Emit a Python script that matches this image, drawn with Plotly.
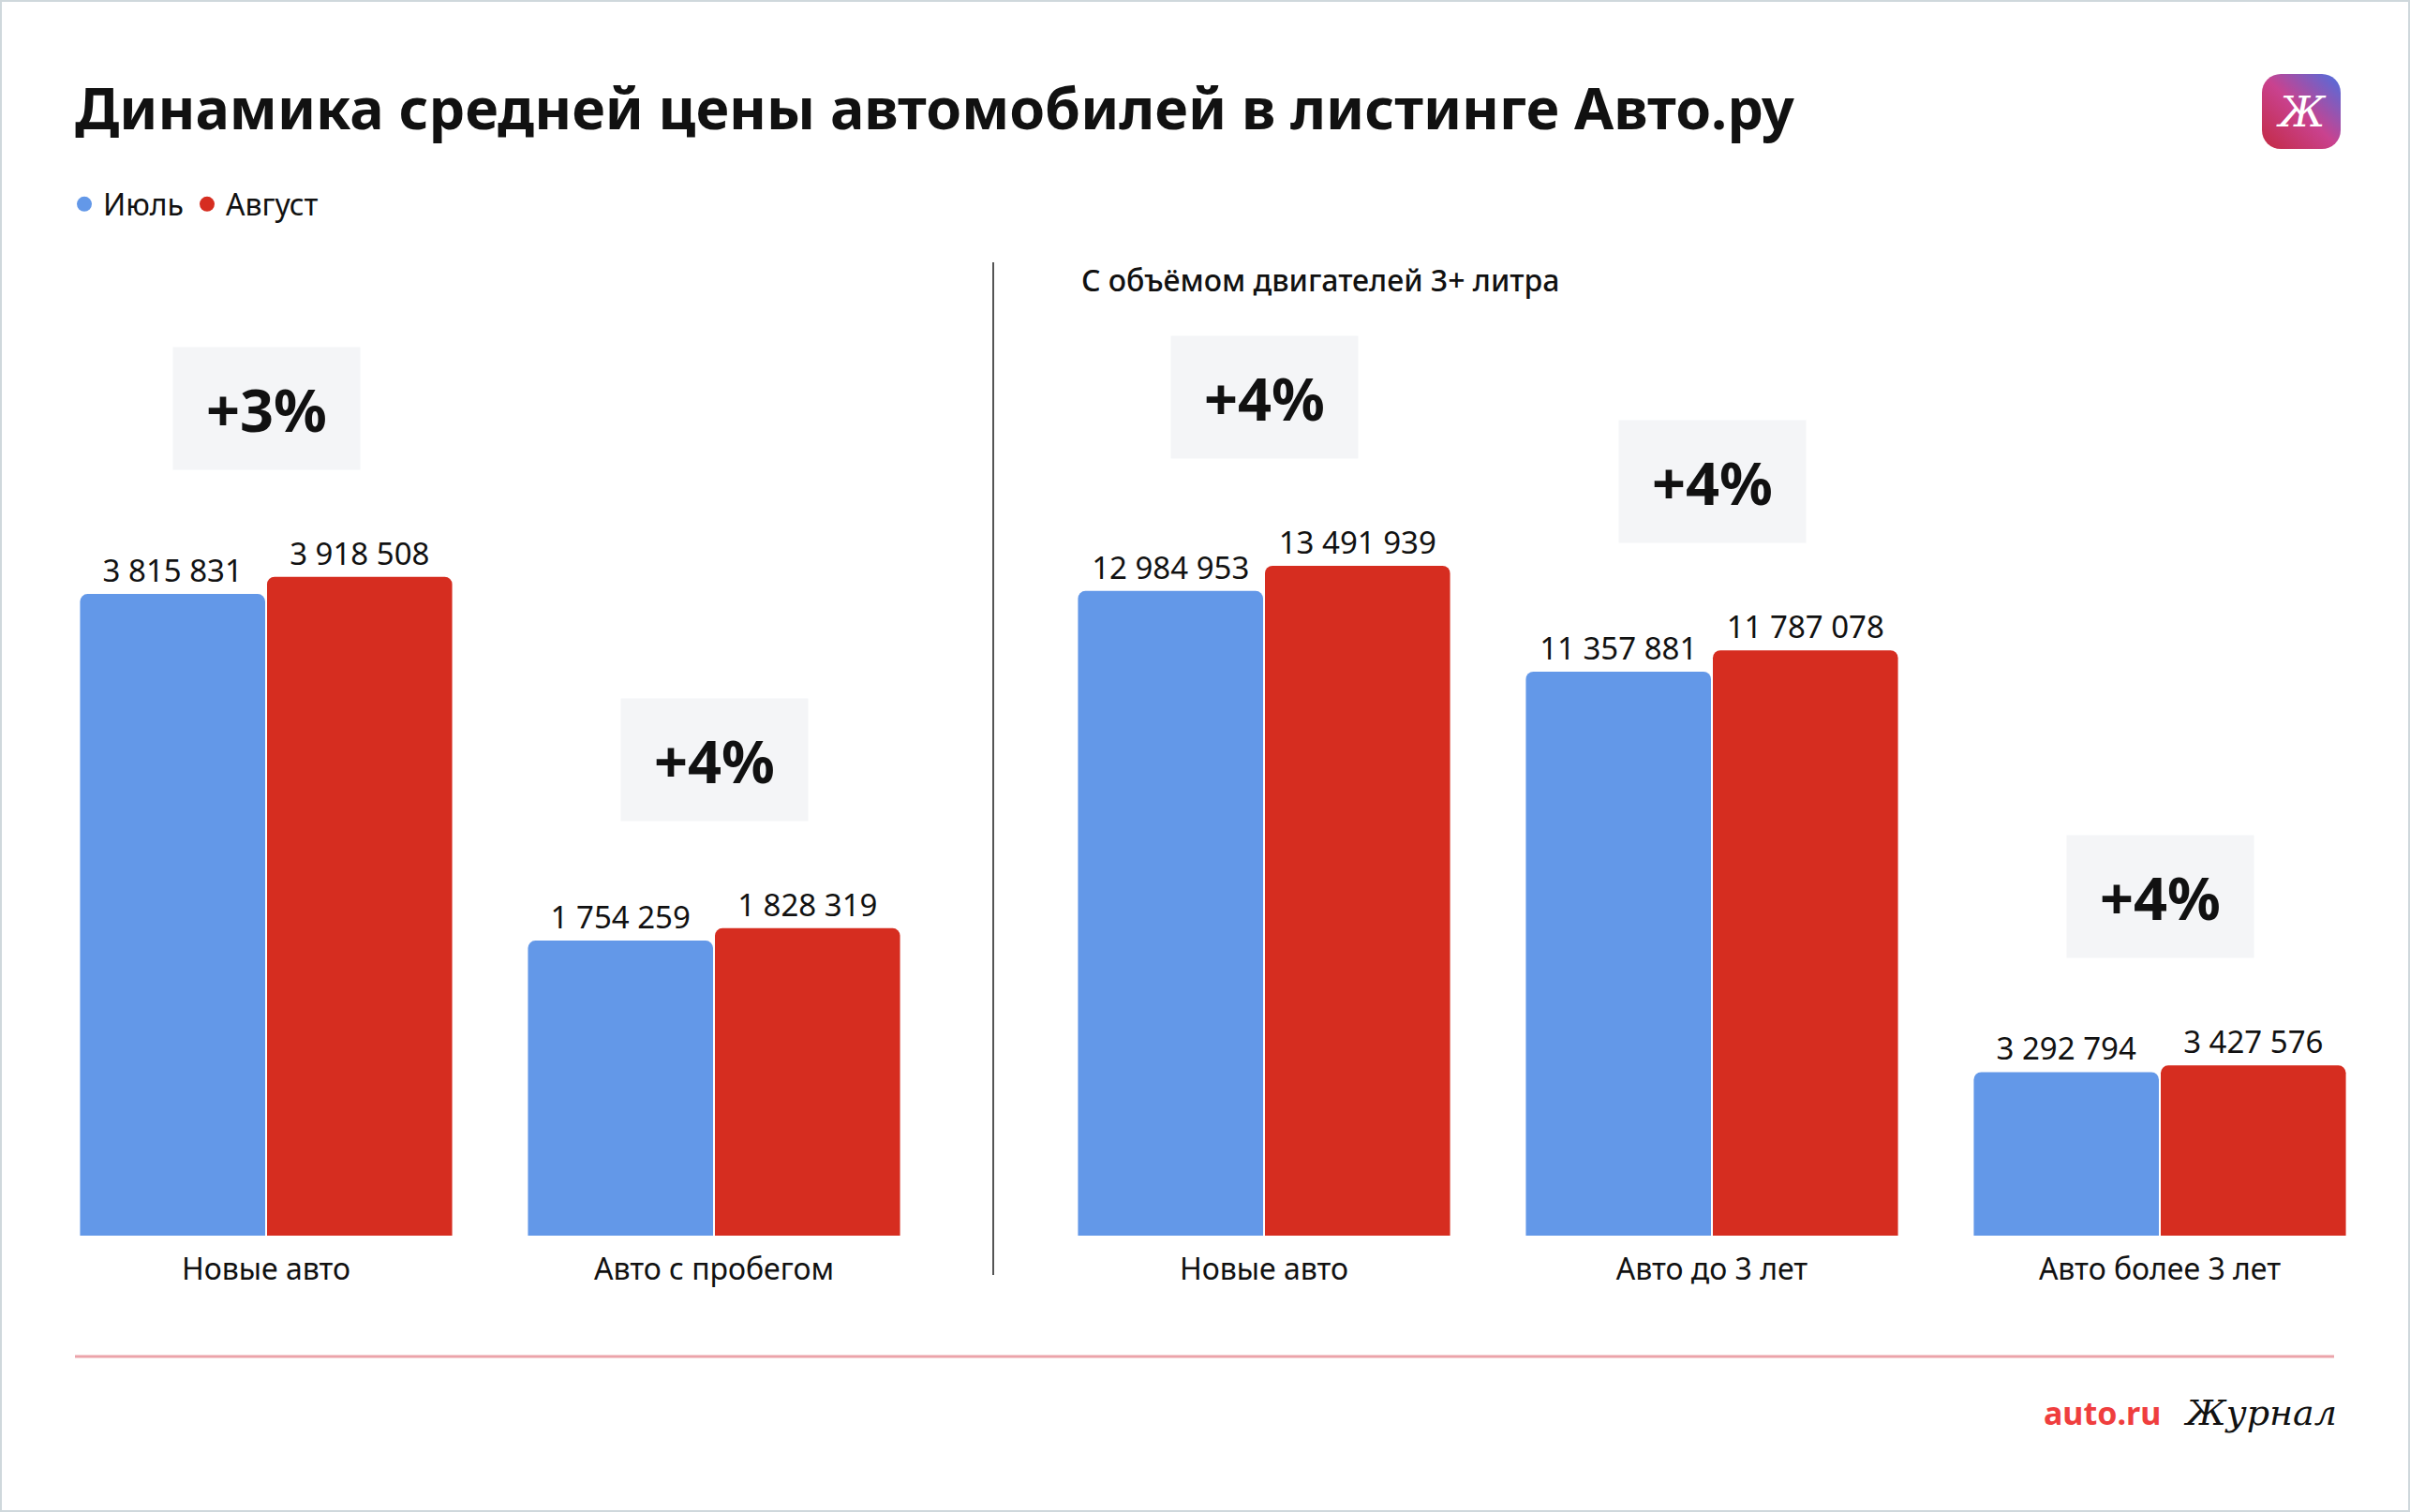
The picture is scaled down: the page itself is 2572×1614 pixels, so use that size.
import base64

import plotly.graph_objects as go

W, H = 2572, 1614
BLUE = "#6398e8"
RED = "#d62d20"
BOX = "#f4f5f7"
FONT = "Noto Sans"

# данные: средняя цена в листинге, руб.
months = ["Июль", "Август"]
cats_all = ["Новые авто", "Авто с пробегом"]
july_all = [3815831, 1754259]
aug_all = [3918508, 1828319]

cats_big = ["Новые авто", "Авто до 3 лет", "Авто более 3 лет"]
july_big = [12984953, 11357881, 3292794]
aug_big = [13491939, 11787078, 3427576]

subtitle = "С объёмом двигателей 3+ литра"
title = "Динамика средней цены автомобилей в листинге Авто.ру"


def px_x(x):
    return x / W


def px_y(y):
    return 1 - y / H


fig = go.Figure()

panels = [
    ("x", "y", cats_all, july_all, aug_all),
    ("x2", "y2", cats_big, july_big, aug_big),
]
for xa, ya, cats, jul, aug in panels:
    for name, vals, color in [(months[0], jul, BLUE), (months[1], aug, RED)]:
        fig.add_trace(go.Bar(
            x=cats, y=vals, name=name, xaxis=xa, yaxis=ya,
            marker=dict(color=color, cornerradius=8, line=dict(width=0)),
            texttemplate="%{y:,.0f}", textposition="outside",
            textfont=dict(size=33, color="#111", family=FONT),
            cliponaxis=False, showlegend=False, hoverinfo="skip",
        ))
    # плашки с процентом прироста
    for c, j, a in zip(cats, jul, aug):
        fig.add_annotation(
            x=c, y=a, xref=xa, yref=ya, yanchor="bottom", yshift=114,
            text=f"<b>+{round((a / j - 1) * 100)}%</b>", showarrow=False,
            width=199, height=130, bgcolor=BOX, borderpad=0, valign="middle",
            font=dict(size=63, color="#111", family=FONT),
        )

# легенда кружками
for name, color in [(months[0], BLUE), (months[1], RED)]:
    fig.add_trace(go.Scatter(
        x=[None], y=[None], mode="markers", name=name,
        marker=dict(symbol="circle", size=18, color=color),
    ))

axis_common = dict(showgrid=False, zeroline=False, showline=False,
                   automargin=False, fixedrange=True)
slot = 478
left_c = 523
right_c = 1827

fig.update_layout(
    width=W, height=H,
    margin=dict(l=0, r=0, t=0, b=0),
    paper_bgcolor="white", plot_bgcolor="white",
    separators=". ",
    barmode="group", bargap=0.165, bargroupgap=0.01,
    font=dict(family=FONT, color="#111"),
    title=dict(text=title, x=px_x(80), xanchor="left", y=px_y(117), yanchor="middle",
               font=dict(size=61, weight="bold", color="#111", family=FONT)),
    legend=dict(orientation="h", x=px_x(70), xanchor="left", y=px_y(218), yanchor="middle",
                font=dict(size=32, color="#111"), itemwidth=30, traceorder="normal",
                bgcolor="rgba(0,0,0,0)"),
    xaxis=dict(**axis_common, domain=[px_x(left_c - slot), px_x(left_c + slot)],
               tickfont=dict(size=32, color="#111"), ticklabelstandoff=14),
    xaxis2=dict(**axis_common, domain=[px_x(right_c - 1.5 * slot), px_x(right_c + 1.5 * slot)],
                tickfont=dict(size=32, color="#111"), ticklabelstandoff=14, anchor="y2"),
    yaxis=dict(**axis_common, showticklabels=False, domain=[px_y(1319), px_y(280)],
               range=[0, 1039 / 179.5 * 1e6]),
    yaxis2=dict(**axis_common, showticklabels=False, domain=[px_y(1319), px_y(280)],
                range=[0, 1039 / 53 * 1e6], anchor="x2"),
)

# подзаголовок правой панели
fig.add_annotation(
    x=px_x(1152), y=px_y(298), xref="paper", yref="paper", xanchor="left", yanchor="middle",
    text=subtitle, showarrow=False, font=dict(size=32, weight=500, color="#111"),
)

# разделитель, нижняя линия, рамка
fig.add_shape(type="line", xref="paper", yref="paper", x0=px_x(1060), x1=px_x(1060),
              y0=px_y(1361), y1=px_y(280), line=dict(color="#555", width=2))
fig.add_shape(type="line", xref="paper", yref="paper", x0=px_x(80), x1=px_x(2491),
              y0=px_y(1448), y1=px_y(1448), line=dict(color="#eba3aa", width=3))
fig.add_shape(type="rect", xref="paper", yref="paper", x0=0, x1=1, y0=0, y1=1,
              line=dict(color="#cfd8dc", width=4))

# подвал
fig.add_annotation(
    x=px_x(2308), y=px_y(1508), xref="paper", yref="paper", xanchor="right", yanchor="middle",
    text="<b>auto.ru</b>", showarrow=False, font=dict(size=34, color="#ef3e3e"),
)
fig.add_annotation(
    x=px_x(2328), y=px_y(1508), xref="paper", yref="paper", xanchor="left", yanchor="middle",
    text="<i>Журнал</i>", showarrow=False,
    font=dict(size=38, color="#111", family="DejaVu Serif"),
)

# логотип
svg = (
    "<svg xmlns='http://www.w3.org/2000/svg' width='84' height='80'>"
    "<defs><linearGradient id='g' x1='0' y1='1' x2='1' y2='0'>"
    "<stop offset='0' stop-color='#c32a43'/><stop offset='0.5' stop-color='#c9428f'/>"
    "<stop offset='1' stop-color='#4b6fe0'/></linearGradient></defs>"
    "<rect width='84' height='80' rx='20' fill='url(#g)'/></svg>"
)
fig.add_layout_image(
    source="data:image/svg+xml;base64," + base64.b64encode(svg.encode()).decode(),
    xref="paper", yref="paper", x=px_x(2414), y=px_y(79), sizex=84 / W, sizey=80 / H,
    xanchor="left", yanchor="top", sizing="stretch", layer="above",
)
fig.add_annotation(
    x=px_x(2456), y=px_y(119), xref="paper", yref="paper", xanchor="center", yanchor="middle",
    text="<i>Ж</i>", showarrow=False, font=dict(size=44, color="white", family="DejaVu Serif"),
)

fig.write_html("out.html", config={"displayModeBar": False},
               post_script="document.body.style.margin='0';")
